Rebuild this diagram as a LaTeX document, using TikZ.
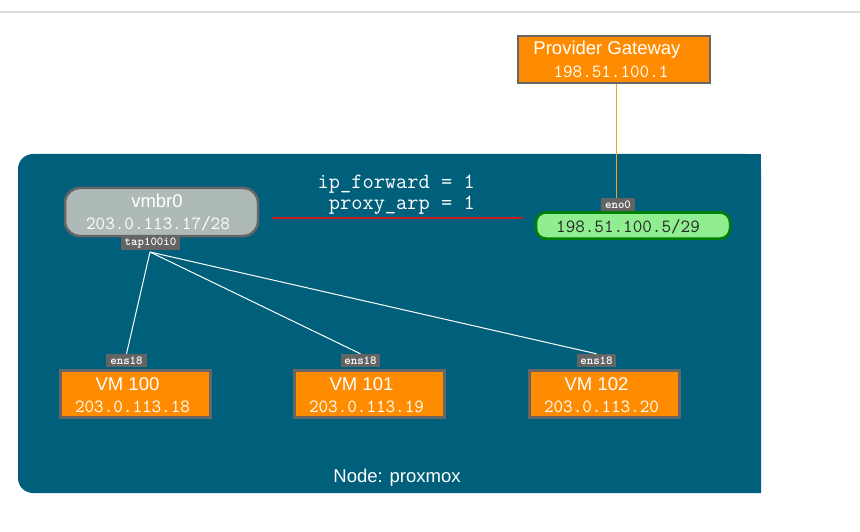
\documentclass[tikz,border=0pt]{standalone}
\usepackage{fontspec}
\setmainfont{Liberation Sans}
\definecolor{panel}{RGB}{0,95,122}
\definecolor{orangebox}{RGB}{255,140,0}
\definecolor{boxborder}{RGB}{102,102,102}
\definecolor{bridgefill}{RGB}{174,186,184}
\definecolor{greenfill}{RGB}{144,238,144}
\definecolor{greenborder}{RGB}{0,128,0}
\definecolor{redline}{RGB}{200,30,30}
\definecolor{orangeline}{RGB}{240,160,40}
\definecolor{tabgray}{RGB}{100,100,100}
\begin{document}
\begin{tikzpicture}[x=1pt,y=-1pt,
  vmbox/.style={draw=boxborder,line width=2.5pt,fill=orangebox,minimum width=150pt,minimum height=47pt,inner sep=0pt},
  tab/.style={fill=tabgray,text=white,inner sep=0pt,minimum height=13pt,font=\ttfamily\bfseries\fontsize{12.3}{12}\selectfont},
  title/.style={text=white,font=\fontsize{18.5}{20}\selectfont},
  ip/.style={font=\ttfamily\fontsize{18.6}{20}\selectfont}]
\useasboundingbox (0,0) rectangle (860,532);
\fill[white] (0,0) rectangle (860,532);
\draw[line width=1.5pt,black!14] (0,12) -- (860,12);
% panel
\fill[panel,rounded corners=15pt] (18,154) -- (761,154) [sharp corners] -- (761,493) [rounded corners=15pt] -- (18,493) -- cycle;
\fill[panel] (740,154) rectangle (761,493);
% provider gateway
\node[vmbox,minimum width=192pt,minimum height=47pt] (gw) at (614,59.5) {};
\node[title] (gwt) at (607,49.5) {Provider Gateway};
\node[ip,text=white] (gwip) at (611,71.5) {198.51.100.1};
% vmbr0
\node[draw=boxborder,line width=2.5pt,fill=bridgefill,rounded corners=15pt,minimum width=193pt,minimum height=48pt,inner sep=0pt] (br) at (161.5,212) {};
\node[title] (brt) at (157,201) {vmbr0};
\node[ip,text=white] (brip) at (158,223.5) {203.0.113.17/28};
\node[tab,minimum width=59pt] (tap) at (150.5,243.5) {tap100i0};
% green interface
\node[draw=greenborder,line width=2.5pt,fill=greenfill,rounded corners=10pt,minimum width=194pt,minimum height=26pt,inner sep=0pt] (eno) at (633,225.5) {};
\node[ip,text=black!85] (enoip) at (628,226.5) {198.51.100.5/29};
\node[tab,minimum width=34pt] (enot) at (618,204.5) {eno0};
% sysctl text
\node[text=white,align=right,anchor=east,inner sep=0pt,font=\ttfamily\fontsize{21.8}{21}\selectfont] (sys) at (475,194.5) {ip\_forward = 1\\proxy\_arp = 1};
% red line
\coordinate (ra) at (272,218);
\coordinate (rb) at (523,218);
\draw[redline,line width=1.2pt] (ra) -- (rb);
% orange line
\draw[orangeline,line width=1pt] (gw.south -| 616,0) -- (enot.north -| 616,0);
% VMs
\foreach \n/\x/\lab/\ipa in {a/135.5/VM 100/203.0.113.18, b/369.5/VM 101/203.0.113.19, c/604.5/VM 102/203.0.113.20}{
  \node[vmbox] (vm\n) at (\x,394) {};
  \node[title] (vmt\n) at (\x-8,384) {\lab};
  \node[ip,text=white] (vmip\n) at (\x-3,406.5) {\ipa};
}
\node[tab,minimum width=41pt] (ensa) at (126.5,360.5) {ens18};
\node[tab,minimum width=39pt] (ensb) at (360.5,360.5) {ens18};
\node[tab,minimum width=39pt] (ensc) at (596.5,360.5) {ens18};
\coordinate (hub) at (150,252);
\foreach \e in {ensa,ensb,ensc}{\draw[white,line width=1pt] (hub) -- (\e.north);}
% panel label
\node[title] (nlab) at (397,477.5) {Node: proxmox};
\end{tikzpicture}
\end{document}
